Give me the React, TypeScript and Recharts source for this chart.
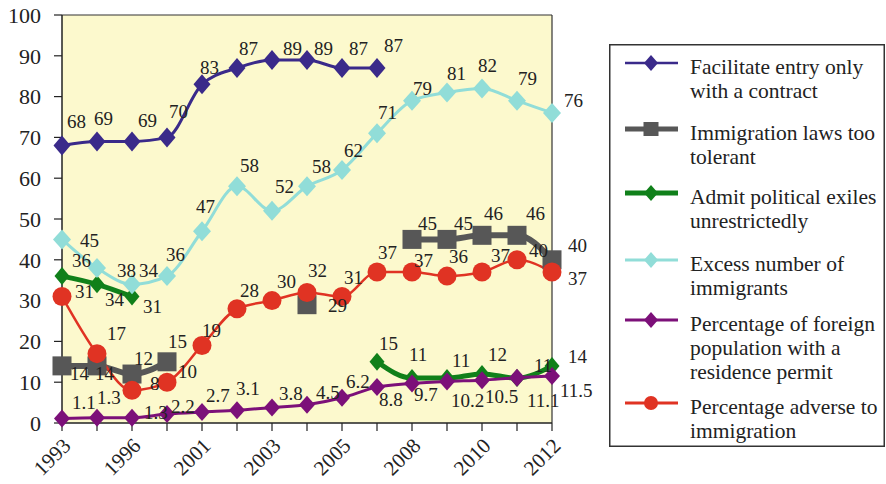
import React from 'react';
import { LineChart, Line, XAxis, YAxis, CartesianGrid, LabelList, Legend, ReferenceLine } from 'recharts';

// Survey years (only every other year is labelled on the axis)
const years = ['1993', '1995', '1996', '1999', '2001', '2002', '2003', '2004', '2005', '2007', '2008', '2009', '2010', '2011', '2012'];
const shownYears = ['1993', '1996', '2001', '2003', '2005', '2008', '2010', '2012'];
const yTicks = [0, 10, 20, 30, 40, 50, 60, 70, 80, 90, 100];

// Series values (percent)
const facilitateEntry = [68, 69, 69, 70, 83, 87, 89, 89, 87, 87, null, null, null, null, null];
const lawsTooTolerant = [14, 14, 12, 15, null, null, null, 29, null, null, 45, 45, 46, 46, 40];
const politicalExiles = [36, 34, 31, null, null, null, null, null, null, 15, 11, 11, 12, 11, 14];
const excessImmigrants = [45, 38, 34, 36, 47, 58, 52, 58, 62, 71, 79, 81, 82, 79, 76];
const residencePermit = [1.1, 1.3, 1.3, 2.2, 2.7, 3.1, 3.8, 4.5, 6.2, 8.8, 9.7, 10.2, 10.5, 11.1, 11.5];
const adverseToImmigration = [31, 17, 8, 10, 19, 28, 30, 32, 31, 37, 37, 36, 37, 40, 37];

// Value label placement: [dx, dy] of the text start / baseline relative to each point
type Off = [number, number] | null;
const facilitateLabelOff: Off[] = [[5, -18], [-3, -16], [6, -14], [2, -19], [-2, -10], [2, -13], [11, -5], [7, -5], [7, -13], [7, -16], null, null, null, null, null];
const lawsLabelOff: Off[] = [[8, 14], [-2, 14], [2, -9], [1, -14], null, null, null, [21, 7], null, null, [6, -9], [7, -9], [2, -15], [9, -15], [16, -8]];
const exilesLabelOff: Off[] = [[10, -9], [8, 22], [11, 16], null, null, null, null, null, null, [2, -12], [-3, -17], [5, -11], [6, -13], [17, -6], [16, -3]];
const excessLabelOff: Off[] = [[18, 8], [20, 9], [7, -7], [-1, -15], [-6, -18], [3, -14], [3, -18], [5, -13], [2, -13], [1, -14], [1, -6], [0, -13], [-4, -16], [1, -16], [12, -6]];
const permitLabelOff: Off[] = [[10, -10], [0, -14], [12, 1], [4, -1], [4, -10], [-1, -15], [7, -7], [9, -6], [4, -10], [2, 19], [2, 18], [4, 26], [3, 23], [10, 29], [8, 21]];
const adverseLabelOff: Off[] = [[13, 1], [10, -14], [18, 0], [11, -4], [0, -8], [3, -12], [5, -13], [1, -15], [2, -13], [1, -13], [2, -5], [2, -13], [9, -10], [12, -3], [16, 13]];

const data = years.map((year, i) => ({
  year,
  facilitate: facilitateEntry[i],
  laws: lawsTooTolerant[i],
  exiles: politicalExiles[i],
  excess: excessImmigrants[i],
  permit: residencePermit[i],
  adverse: adverseToImmigration[i],
}));

const FONT = "'Liberation Serif', 'Times New Roman', serif";
const TEXT = '#222';

type Shape = 'diamond' | 'square' | 'circle';

const marker = (shape: Shape, cx: number, cy: number, w: number, h: number, fill: string, key?: string) => {
  if (shape === 'circle') return <circle key={key} cx={cx} cy={cy} r={w} fill={fill} />;
  if (shape === 'square') return <rect key={key} x={cx - w} y={cy - h} width={w * 2} height={h * 2} fill={fill} />;
  return <path key={key} d={`M${cx},${cy - h}L${cx + w},${cy}L${cx},${cy + h}L${cx - w},${cy}Z`} fill={fill} />;
};

const makeDot = (shape: Shape, w: number, h: number, fill: string) => (props: any) => {
  const { cx, cy, index, value } = props;
  if (value == null || cx == null || cy == null || Number.isNaN(cy)) return <g key={`e-${index}`} />;
  return marker(shape, cx, cy, w, h, fill, `d-${index}`);
};

const makeLabel = (offsets: Off[]) => (props: any) => {
  const { index, value } = props;
  const vb = props.viewBox || {};
  const x = props.x ?? vb.x;
  const y = props.y ?? vb.y;
  const off = offsets[index];
  if (value == null || x == null || y == null || !off) return null;
  return (
    <text x={x + off[0]} y={y + off[1]} fontSize={19} fontFamily={FONT} fill={TEXT}>
      {value}
    </text>
  );
};

const XTick = (props: any) => {
  const { x, y, payload } = props;
  if (!shownYears.includes(payload.value)) return <g />;
  const ax = x + 10;
  const ay = y + 14;
  return (
    <text x={ax} y={ay} transform={`rotate(-45 ${ax} ${ay})`} textAnchor="end" fontSize={21} fontFamily={FONT} fill={TEXT}>
      {payload.value}
    </text>
  );
};

const series = [
  { key: 'facilitate', color: '#3a2a8a', width: 3, shape: 'diamond' as Shape, w: 8.5, h: 10, lw: 7, lh: 8, legendStroke: 2.5, lines: ['Facilitate entry only', 'with a contract'], off: facilitateLabelOff },
  { key: 'laws', color: '#575757', width: 6, shape: 'square' as Shape, w: 9.5, h: 9.5, lw: 7.5, lh: 7, legendStroke: 5, lines: ['Immigration laws too', 'tolerant'], off: lawsLabelOff },
  { key: 'exiles', color: '#10801a', width: 5, shape: 'diamond' as Shape, w: 7.5, h: 9, lw: 7, lh: 8, legendStroke: 5, lines: ['Admit political exiles', 'unrestrictedly'], off: exilesLabelOff },
  { key: 'excess', color: '#91ddd8', width: 3, shape: 'diamond' as Shape, w: 9, h: 10, lw: 7, lh: 8, legendStroke: 3, lines: ['Excess number of', 'immigrants'], off: excessLabelOff },
  { key: 'permit', color: '#7c1079', width: 3, shape: 'diamond' as Shape, w: 8, h: 9, lw: 7, lh: 8, legendStroke: 3, lines: ['Percentage of foreign', 'population with a', 'residence permit'], off: permitLabelOff },
  { key: 'adverse', color: '#e03323', width: 2.5, shape: 'circle' as Shape, w: 9.5, h: 9.5, lw: 7, lh: 7, legendStroke: 3, lines: ['Percentage adverse to', 'immigration'], off: adverseLabelOff },
];

const legendRows = [19, 85, 149, 216, 276, 359];

const LegendBox = () => (
  <svg width={276} height={403} style={{ display: 'block' }}>
    <rect x={0.75} y={0.75} width={274.5} height={401.5} fill="#fff" stroke="#333" strokeWidth={1.5} />
    {series.map((s, i) => {
      const ly = legendRows[i];
      return (
        <g key={s.key}>
          <line x1={16} x2={69} y1={ly} y2={ly} stroke={s.color} strokeWidth={s.legendStroke} />
          {marker(s.shape, 42, ly, s.lw, s.lh, s.color)}
          <text fontSize={21.5} fontFamily={FONT} fill={TEXT}>
            {s.lines.map((t, j) => (
              <tspan key={j} x={81} y={ly + 11 + j * 24}>
                {t}
              </tspan>
            ))}
          </text>
        </g>
      );
    })}
  </svg>
);

export default function App() {
  return (
    <div style={{ position: 'absolute', left: 0, top: 0, width: 886, height: 484, background: '#fff' }}>
      <LineChart width={886} height={484} data={data} margin={{ top: 15, right: 334, bottom: 0, left: 0 }}>
        <CartesianGrid fill="#fcf9cd" fillOpacity={1} horizontal={false} vertical={false} stroke="none" />
        <XAxis
          dataKey="year"
          scale="point"
          interval={0}
          height={61}
          tickSize={8}
          tickMargin={2}
          tick={<XTick />}
          axisLine={{ stroke: TEXT, strokeWidth: 1.5 }}
          tickLine={{ stroke: TEXT, strokeWidth: 1.2 }}
          padding={{ left: 0, right: 0 }}
        />
        <YAxis
          domain={[0, 100]}
          ticks={yTicks}
          width={62}
          tickSize={8}
          tickMargin={13}
          interval={0}
          tick={{ fontSize: 22, fontFamily: FONT, fill: TEXT }}
          axisLine={{ stroke: TEXT, strokeWidth: 1.5 }}
          tickLine={{ stroke: TEXT, strokeWidth: 1.2 }}
        />
        <ReferenceLine y={100} stroke="#333" strokeWidth={1.2} />
        <ReferenceLine x="2012" stroke="#333" strokeWidth={1.2} />
        {series.map((s) => (
          <Line
            key={s.key}
            dataKey={s.key}
            type="monotone"
            stroke={s.color}
            strokeWidth={s.width}
            dot={makeDot(s.shape, s.w, s.h, s.color)}
            activeDot={false}
            isAnimationActive={false}
            connectNulls={false}
          >
            <LabelList dataKey={s.key} content={makeLabel(s.off)} />
          </Line>
        ))}
        <Legend
          layout="horizontal"
          verticalAlign="middle"
          align="center"
          wrapperStyle={{ position: 'absolute', left: 609, top: 44, width: 276, height: 403 }}
          content={() => <LegendBox />}
        />
      </LineChart>
    </div>
  );
}
